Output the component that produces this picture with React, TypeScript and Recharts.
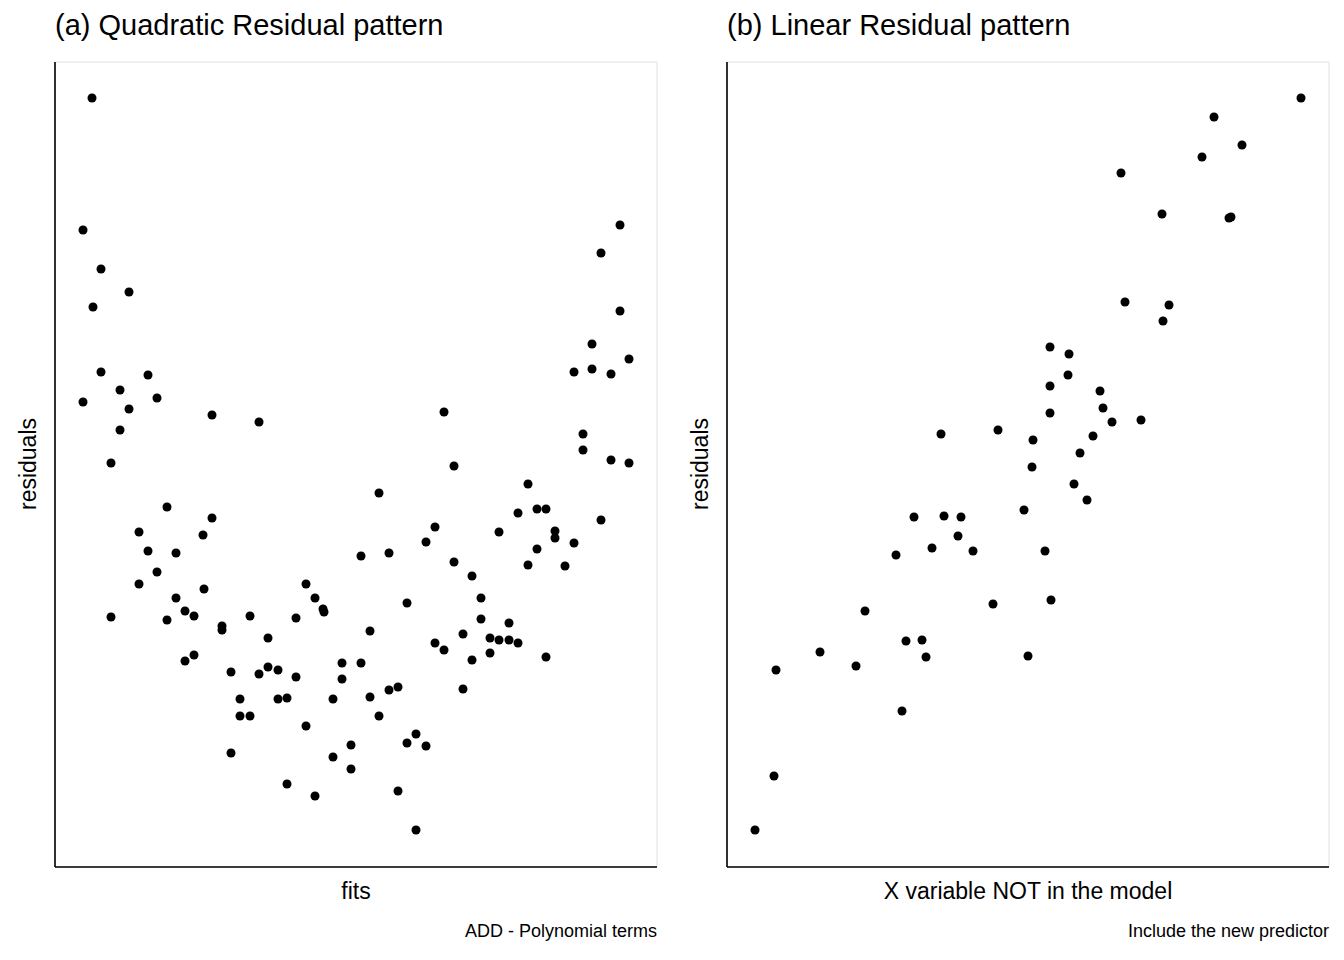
import React from "react";
import { ScatterChart, Scatter, XAxis, YAxis, CartesianGrid, ZAxis } from "recharts";

// Panel (a): fits vs residuals (quadratic pattern)
const quadFits = [3.7,2.8,4.6,3.8,7.4,2.8,4.6,6.5,7.4,9.3,10.2,6.5,5.6,15.7,20.4,8.4,9.3,8.4,10.2,11.2,12.1,11.2,12.1,13.0,13.9,13.0,13.9,14.8,15.7,14.9,5.6,16.7,16.7,17.6,18.5,18.5,19.5,19.5,17.6,20.4,21.3,21.3,22.3,22.3,23.2,24.1,24.1,23.2,25.1,25.1,26.0,26.8,26.9,26.0,27.8,28.7,28.7,27.8,29.6,29.6,30.6,30.6,31.5,31.5,32.4,32.4,33.4,33.4,34.3,34.3,35.2,35.2,36.1,36.1,37.1,37.1,38.0,38.0,38.9,38.9,39.9,39.9,40.8,40.8,41.7,41.7,42.6,42.6,43.5,43.5,44.4,44.4,45.4,45.4,46.3,46.3,47.3,47.3,48.2,48.2,49.1,49.1,50.0,50.0,51.0,51.9,51.9,52.8,52.8,53.7,53.7,54.6,54.6,55.6,55.6,56.5,56.5,57.4,57.4];
const quadResiduals = [76.9,63.7,59.8,56.0,57.5,46.5,49.5,47.7,45.8,49.2,46.9,43.7,40.4,45.2,44.5,33.5,31.6,28.3,29.5,36.0,31.4,24.7,26.9,25.6,25.1,20.6,21.2,33.2,34.9,27.8,25.0,24.1,23.7,19.5,16.8,15.1,15.1,25.1,11.4,19.3,22.9,20.0,19.7,16.8,16.9,24.9,19.0,8.3,28.3,14.1,26.9,25.8,25.5,7.1,16.8,20.4,18.8,11.0,12.2,9.8,20.4,31.1,23.6,17.0,37.4,15.1,31.4,17.7,18.0,7.6,26.4,12.4,13.3,3.7,12.1,32.5,34.0,22.4,45.5,21.7,40.1,30.5,23.3,17.8,29.1,20.7,26.9,24.8,22.9,21.4,33.5,22.7,22.7,24.4,35.4,22.4,38.3,30.2,35.8,31.8,35.8,21.0,33.6,32.9,30.1,32.4,49.5,43.3,41.7,52.3,49.8,34.7,61.4,40.7,49.3,64.2,55.6,50.8,40.4];
const quadXTicks = [5.1,15.1,25.1,35.2,45.2,55.2];
const quadYTicks = [9.5,19.8,30.1,40.4,50.7,61.0,71.3];

// Panel (b): X variable not in model vs residuals (linear pattern)
const linX = [2.8,4.7,4.9,9.3,12.9,13.8,17.5,16.9,17.9,19.5,19.9,18.7,20.5,21.4,21.7,23.1,23.4,24.6,26.6,27.1,29.7,30.1,30.5,30.6,31.8,32.3,32.3,32.3,32.4,34.2,34.1,34.7,35.3,36.0,36.6,37.3,37.6,38.5,41.4,39.4,39.8,43.5,43.6,44.2,47.5,48.7,50.2,50.4,51.5,57.4];
const linResiduals = [3.7,9.1,19.7,21.5,20.1,25.6,15.6,31.2,22.6,22.7,21.0,35.0,31.9,43.3,35.1,33.1,35.0,31.6,26.3,43.7,35.7,21.1,40.0,42.7,31.6,52.0,45.4,48.1,26.7,51.3,49.2,38.3,41.4,36.7,43.1,47.6,45.9,44.5,44.7,69.4,56.5,65.3,54.6,56.2,71.0,75.0,64.9,65.0,72.2,76.9];
const linXTicks = [4.4,10.9,17.4,23.9,30.3,36.8,43.2,49.7,56.1];
const linYTicks = [5.8,14.5,23.3,32.0,40.8,49.6,58.3,67.1,75.8];

const quadData = quadFits.map((x, i) => ({ x, y: quadResiduals[i] }));
const linData = linX.map((x, i) => ({ x, y: linResiduals[i] }));

const font = "Arial, Helvetica, sans-serif";

function Panel({ left, data, xTicks, yTicks, title, xLabel, caption }: any) {
  return (
    <div style={{ position: "absolute", left, top: 0, width: 672, height: 960, fontFamily: font, color: "#000" }}>
      <ScatterChart width={672} height={960} margin={{ top: 62, left: 54, right: 15, bottom: 92 }}>
        <CartesianGrid stroke="#ebebeb" strokeWidth={1.6} />
        <XAxis type="number" dataKey="x" domain={[0, 60.2]} ticks={xTicks} tick={false} tickLine={false}
          axisLine={{ stroke: "#000", strokeWidth: 1.6 }} height={1} allowDataOverflow />
        <YAxis type="number" dataKey="y" domain={[0, 80.5]} ticks={yTicks} tick={false} tickLine={false}
          axisLine={{ stroke: "#000", strokeWidth: 1.6 }} width={1} allowDataOverflow />
        <ZAxis range={[64, 64]} />
        <Scatter data={data} fill="#000" isAnimationActive={false} />
      </ScatterChart>
      <div style={{ position: "absolute", left: 55, top: 9, fontSize: 29, whiteSpace: "nowrap" }}>{title}</div>
      <div style={{ position: "absolute", left: 55, width: 602, top: 878, textAlign: "center", fontSize: 23 }}>{xLabel}</div>
      <div style={{ position: "absolute", right: 15, top: 921, fontSize: 18, whiteSpace: "nowrap" }}>{caption}</div>
      <div style={{ position: "absolute", left: 28, top: 464, transform: "translate(-50%,-50%) rotate(-90deg)", fontSize: 23, whiteSpace: "nowrap" }}>residuals</div>
    </div>
  );
}

export default function App() {
  return (
    <div style={{ position: "absolute", left: 0, top: 0, width: 1344, height: 960, background: "#fff" }}>
      <Panel left={0} data={quadData} xTicks={quadXTicks} yTicks={quadYTicks}
        title="(a) Quadratic Residual pattern" xLabel="fits" caption="ADD - Polynomial terms" />
      <Panel left={672} data={linData} xTicks={linXTicks} yTicks={linYTicks}
        title="(b) Linear Residual pattern" xLabel="X variable NOT in the model" caption="Include the new predictor" />
    </div>
  );
}
